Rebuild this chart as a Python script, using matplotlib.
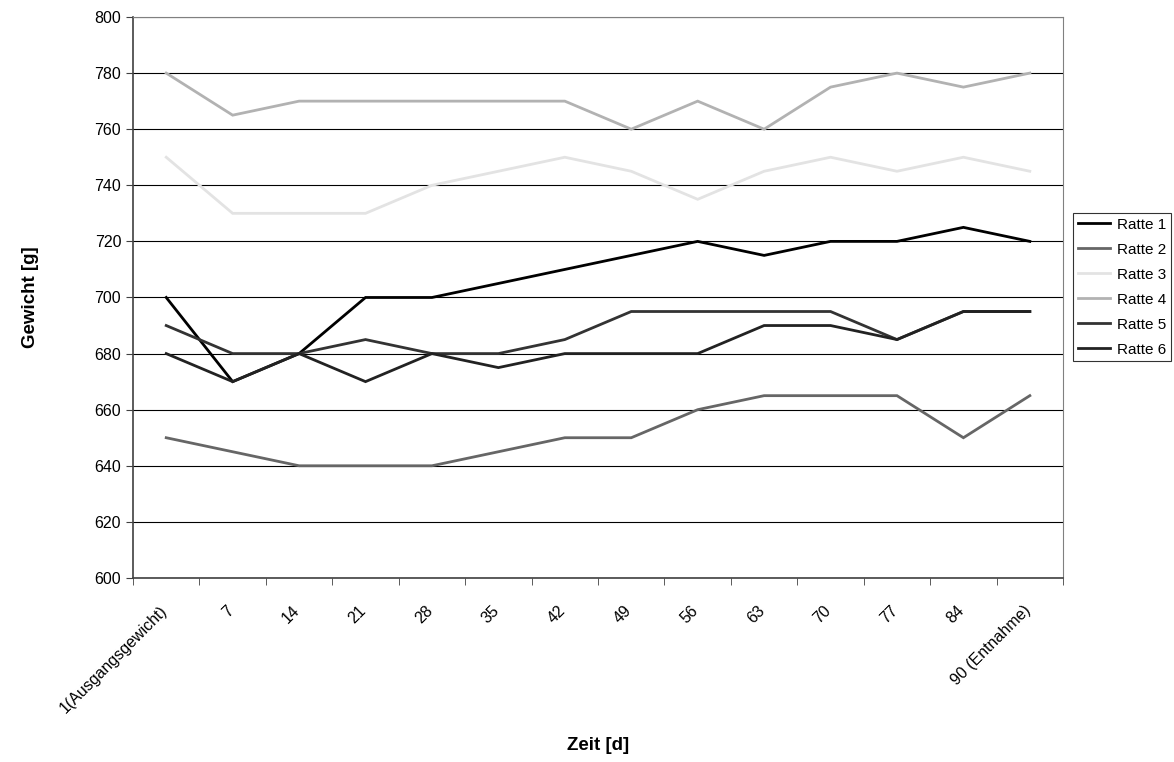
import matplotlib
matplotlib.use('Agg')
import numpy as np
import matplotlib.pyplot as plt
import matplotlib.transforms as mtransforms

plt.rcParams['font.family'] = ['Liberation Sans', 'DejaVu Sans']

zeit = ['1(Ausgangsgewicht)', '7', '14', '21', '28', '35', '42', '49', '56',
        '63', '70', '77', '84', '90 (Entnahme)']
ratte_1 = [700, 670, 680, 700, 700, 705, 710, 715, 720, 715, 720, 720, 725, 720]
ratte_2 = [650, 645, 640, 640, 640, 645, 650, 650, 660, 665, 665, 665, 650, 665]
ratte_3 = [750, 730, 730, 730, 740, 745, 750, 745, 735, 745, 750, 745, 750, 745]
ratte_4 = [780, 765, 770, 770, 770, 770, 770, 760, 770, 760, 775, 780, 775, 780]
ratte_5 = [690, 680, 680, 685, 680, 680, 685, 695, 695, 695, 695, 685, 695, 695]
ratte_6 = [680, 670, 680, 670, 680, 675, 680, 680, 680, 690, 690, 685, 695, 695]

series = [('Ratte 1', ratte_1, '#000000'),
          ('Ratte 2', ratte_2, '#666666'),
          ('Ratte 3', ratte_3, '#e3e3e3'),
          ('Ratte 4', ratte_4, '#b2b2b2'),
          ('Ratte 5', ratte_5, '#333333'),
          ('Ratte 6', ratte_6, '#222222')]

fig = plt.figure(figsize=(11.74, 7.62), dpi=100)
ax = fig.add_axes([0.1133, 0.2415, 0.7922, 0.7362])

x = np.arange(len(zeit))
for name, vals, col in series:
    ax.plot(x, vals, color=col, lw=2.0, label=name, solid_joinstyle='miter')

ax.set_xlim(-0.5, len(zeit) - 0.5)
ax.set_ylim(600, 800)
ax.set_yticks(np.arange(600, 801, 20))
ax.yaxis.grid(True, color='#000000', lw=0.8)
ax.set_axisbelow(True)

# category labels at centres, tick marks at boundaries
ax.set_xticks(x)
ax.set_xticklabels(zeit, rotation=45, ha='right', rotation_mode='anchor')
ax.set_xticks(np.arange(-0.5, len(zeit)), minor=True)
ax.tick_params(axis='x', which='major', length=0, pad=18, labelsize=11.5)
ax.tick_params(axis='x', which='minor', length=5, color='#404040', direction='out')
ax.tick_params(axis='y', length=5, color='#404040', labelsize=11.5)
shift = mtransforms.ScaledTranslation(-7 / 100, 0, fig.dpi_scale_trans)
for lbl in ax.get_xticklabels():
    lbl.set_transform(lbl.get_transform() + shift)

for s in ['top', 'right']:
    ax.spines[s].set_color('#808080')
for s in ['left', 'bottom']:
    ax.spines[s].set_color('#404040')
    ax.spines[s].set_linewidth(1.2)

ax.set_ylabel('Gewicht [g]', fontsize=13.5, fontweight='bold', labelpad=40)
fig.text(0.509, 1 - 745 / 762, 'Zeit [d]', fontsize=13.5, fontweight='bold',
         ha='center', va='center')

leg = fig.legend(loc='upper left', bbox_to_anchor=(0.914, 0.7205), fontsize=11,
                 frameon=True, fancybox=False, handlelength=2.15,
                 borderpad=0.3, labelspacing=0.72, handletextpad=0.45,
                 borderaxespad=0)
leg.get_frame().set_edgecolor('#000000')
leg.get_frame().set_linewidth(0.8)

fig.savefig('out.png', dpi=100)
